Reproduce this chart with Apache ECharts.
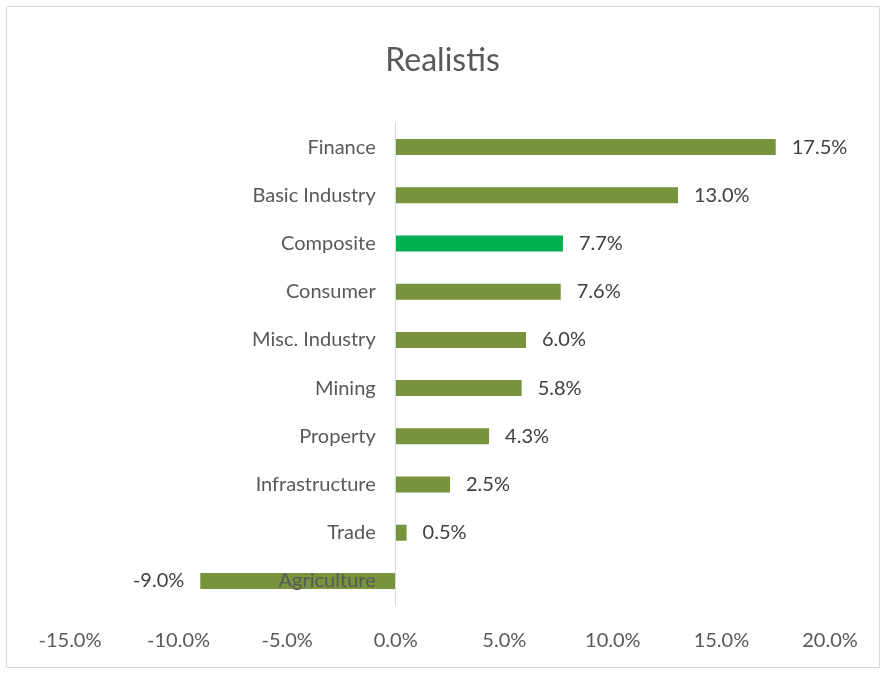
<!DOCTYPE html>
<html>
<head>
<meta charset="utf-8">
<script src="https://cdn.jsdelivr.net/npm/echarts@6/dist/echarts.min.js"></script>
<style>
html,body{margin:0;padding:0;background:#fff;}
#chart{width:885px;height:674px;}
</style>
</head>
<body>
<div id="chart"></div>
<script>
const titleText = "Realistis";
const categories = ["Finance","Basic Industry","Composite","Consumer","Misc. Industry","Mining","Property","Infrastructure","Trade","Agriculture"];
const values = [17.5, 13.0, 7.7, 7.6, 6.0, 5.8, 4.3, 2.5, 0.5, -9.0];
const highlightCategory = "Composite";
const xTicks = [-15, -10, -5, 0, 5, 10, 15, 20];

const FONT = "Lato, 'Open Sans', sans-serif";
const olive = "#77933C";
const bright = "#00B050";

const gridLeft = 70, gridRight = 55;
const plotW = 885 - gridLeft - gridRight;
const xMin = xTicks[0], xMax = xTicks[xTicks.length - 1];
// place the category axis at x = 0
const zeroOffset = -((0 - xMin) / (xMax - xMin)) * plotW;

const chart = echarts.init(document.getElementById('chart'), null, {renderer:'canvas'});
chart.setOption({
  animation: false,
  backgroundColor: '#fff',
  title: {
    text: titleText,
    left: 'center',
    top: 40,
    textStyle: {fontFamily: FONT, fontSize: 32, fontWeight: 'normal', color: '#595959'}
  },
  graphic: [{
    type: 'rect',
    shape: {x: 6.5, y: 6.5, width: 873, height: 661},
    style: {fill: 'none', stroke: '#d9d9d9', lineWidth: 1},
    silent: true
  }],
  grid: {left: gridLeft, right: gridRight, top: 123, bottom: 69, containLabel: false, outerBoundsMode: 'none'},
  xAxis: {
    type: 'value',
    min: xMin,
    max: xMax,
    interval: 5,
    axisLine: {show: false},
    axisTick: {show: false},
    splitLine: {show: false},
    axisLabel: {
      margin: 26,
      fontFamily: FONT, fontSize: 20, color: '#595959',
      formatter: v => v.toFixed(1) + '%'
    }
  },
  yAxis: {
    type: 'category',
    data: categories,
    inverse: true,
    offset: zeroOffset,
    z: 10,
    axisLine: {show: true, onZero: false, lineStyle: {color: '#d9d9d9', width: 1}},
    axisTick: {show: false},
    axisLabel: {margin: 20, fontFamily: FONT, fontSize: 20, color: '#595959'}
  },
  series: [{
    type: 'bar',
    z: 2,
    barWidth: 16,
    data: values.map((v, i) => ({
      value: v,
      itemStyle: {color: categories[i] === highlightCategory ? bright : olive},
      label: {position: v < 0 ? 'left' : 'right'}
    })),
    label: {
      show: true,
      distance: 16,
      fontFamily: FONT, fontSize: 20, color: '#404040',
      formatter: p => p.value.toFixed(1) + '%'
    }
  }]
});
</script>
</body>
</html>
